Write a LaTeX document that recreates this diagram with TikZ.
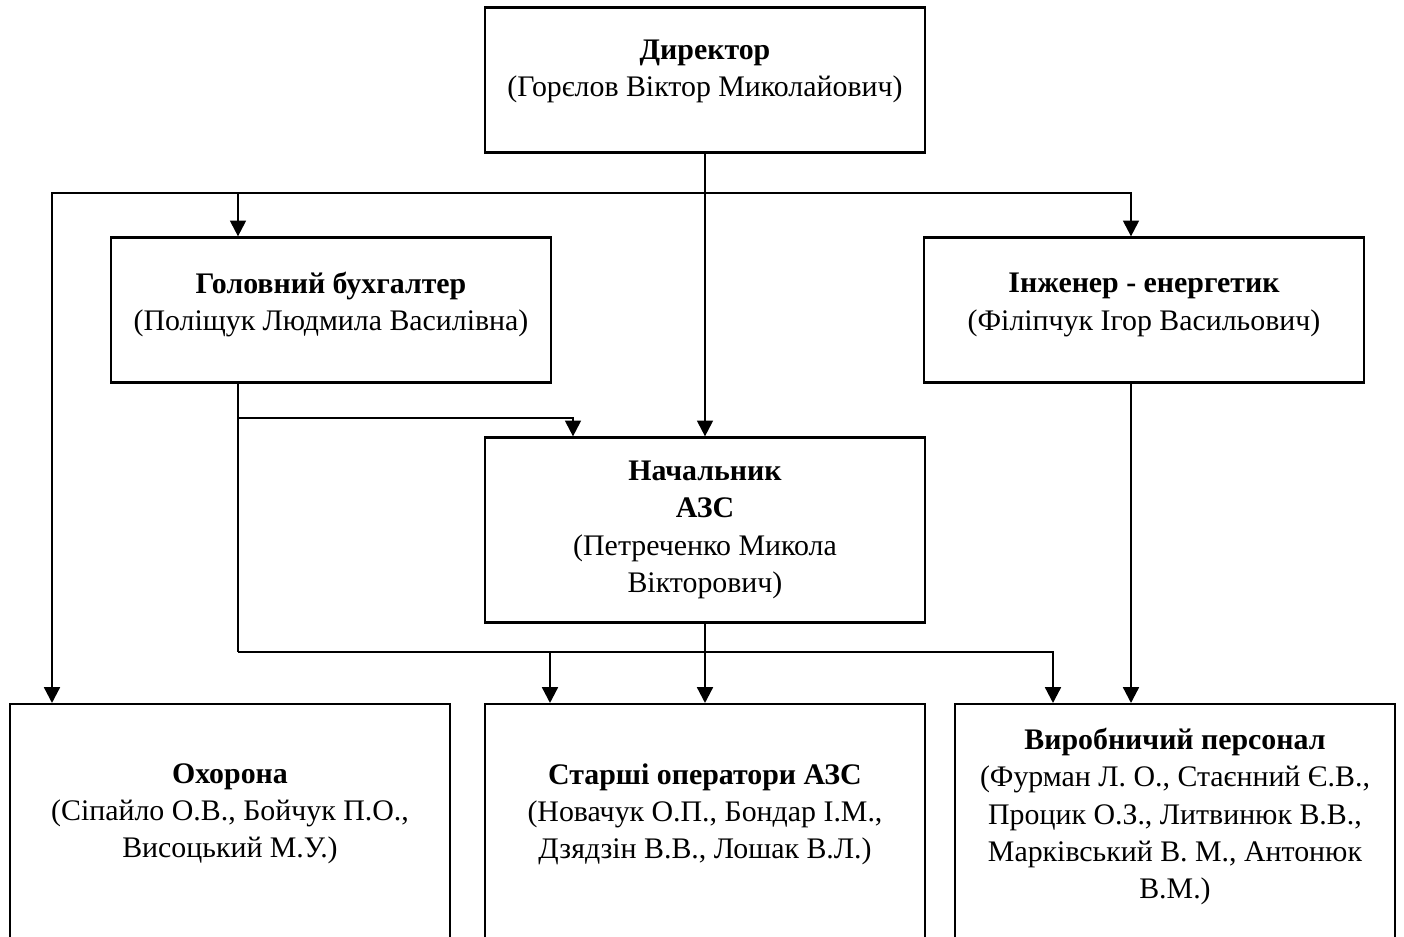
\documentclass[tikz,border=0pt]{standalone}
\usepackage{fontspec}
\setmainfont{Liberation Serif}
\usetikzlibrary{arrows.meta, positioning}

\begin{document}
\begin{tikzpicture}[
    x=0.02cm, y=-0.02cm,
    every node/.style={font=\fontsize{17}{21.2}\selectfont},
    unit/.style={draw, line width=1.3pt, minimum width=8.8cm, align=center, inner sep=0pt},
    head/.style={unit, minimum height=2.9cm},
    chief/.style={unit, minimum height=3.7cm},
    staff/.style={draw, line width=1.3pt, minimum width=8.8cm, minimum height=6cm, anchor=north},
    txt/.style={align=center, inner sep=0pt},
    link/.style={line width=1.3pt},
    arr/.style={link, -{Triangle[length=9pt, width=9pt]}},
]
\useasboundingbox (0,0) rectangle (1404,937);

% management
\node[head, text depth=13pt] (dir) at (705,80) {\textbf{Директор}\\(Горєлов Віктор Миколайович)};
\node[head, text depth=9.5pt] (acc) at (331,310) {\textbf{Головний бухгалтер}\\(Поліщук Людмила Василівна)};
\node[head, text depth=9.5pt] (eng) at (1144,310) {\textbf{Інженер - енергетик}\\(Філіпчук Ігор Васильович)};
\node[chief] (boss) at (705,530) {\textbf{Начальник}\\\textbf{АЗС}\\(Петреченко Микола\\Вікторович)};

% staff, cut off at the page edge
\node[staff] (guard) at (230,703) {};
\node[staff] (oper) at (705,703) {};
\node[staff] (prod) at (1175,703) {};
\node[txt, below=1.2cm of guard.north] (guardtxt)
    {\textbf{Охорона}\\(Сіпайло О.В., Бойчук П.О.,\\Висоцький М.У.)};
\node[txt, below=1.2cm of oper.north] (opertxt)
    {\textbf{Старші оператори АЗС}\\(Новачук О.П., Бондар І.М.,\\Дзядзін В.В., Лошак В.Л.)};
\node[txt, below=0.5cm of prod.north] (prodtxt)
    {\textbf{Виробничий персонал}\\(Фурман Л. О., Стаєнний Є.В.,\\Процик О.З., Литвинюк В.В.,\\Марківський В. М., Антонюк\\В.М.)};

% buses
\coordinate (topbus) at (705,193);
\coordinate (midbus) at (238,418);
\coordinate (lowbus) at (238,652);

\draw[arr] (dir.south) -- (boss.north);
\draw[arr] (topbus) -| (guard.north -| 52,0);
\draw[arr] (topbus) -| (acc.north -| 238,0);
\draw[arr] (topbus) -| (eng.north -| 1131,0);

\draw[link] (acc.south -| 238,0) -- (lowbus);
\draw[arr] (midbus) -| (boss.north -| 573,0);
\draw[arr] (lowbus) -| (oper.north -| 550,0);
\draw[arr] (lowbus) -| (prod.north -| 1053,0);

\draw[arr] (boss.south) -- (oper.north);
\draw[arr] (eng.south -| 1131,0) -- (prod.north -| 1131,0);
\end{tikzpicture}
\end{document}
